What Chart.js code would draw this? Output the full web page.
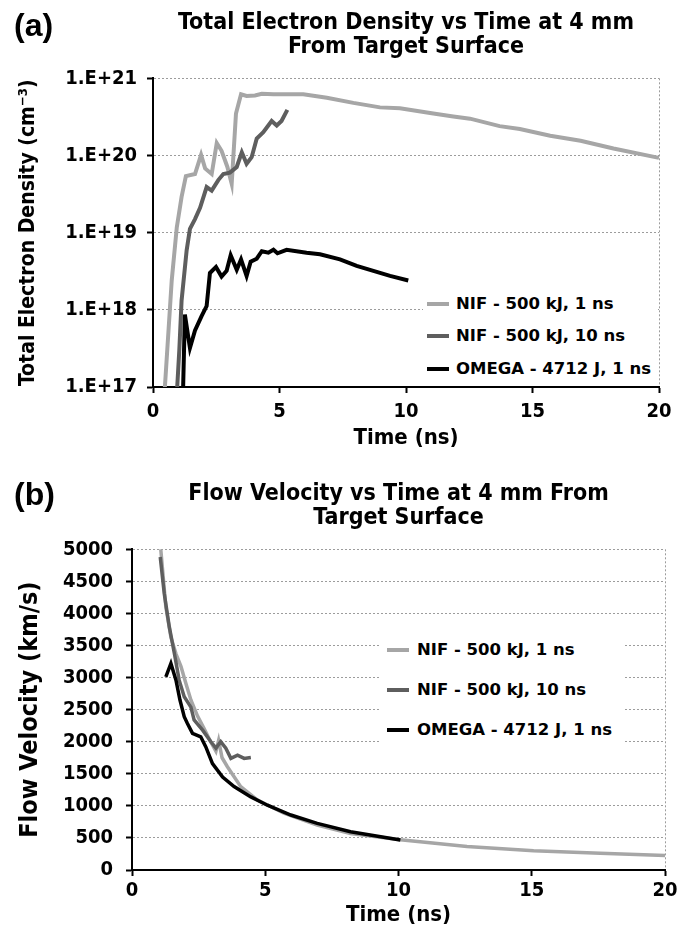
<!DOCTYPE html>
<html>
<head>
<meta charset="utf-8">
<script src="https://cdn.jsdelivr.net/npm/chart.js@4.4.1/dist/chart.umd.min.js"></script>
<style>
  html, body { margin: 0; padding: 0; background: #fff; }
  #page { position: relative; width: 691px; height: 934px; background: #fff; overflow: hidden; }
  .box { position: absolute; left: 0; width: 691px; }
  .tag { position: absolute; left: 14px; font-family: 'Liberation Sans', Arial, sans-serif; font-weight: bold; font-size: 32px; color: #000; line-height: 36px; }
  .lg { position: absolute; background: #fff; }
  .it { position: absolute; left: 0; height: 22px; line-height: 22px; white-space: nowrap;
        font-family: 'DejaVu Sans', sans-serif; font-weight: bold; font-size: 16.5px; color: #000; }
  .mk { position: absolute; top: 9px; width: 22px; height: 4px; }
  .tx { position: absolute; top: 0; }
</style>
</head>
<body>
<div id="page">
  <div class="box" style="top:0;height:470px"><canvas id="c1"></canvas></div>
  <div class="box" style="top:471px;height:463px"><canvas id="c2"></canvas></div>
  <div class="tag" style="top:7px">(a)</div>
  <div class="tag" style="top:476px">(b)</div>
  <div class="lg" id="lg1" style="left:423px;top:289px;width:233px;height:95px"></div>
  <div class="lg" id="lg2" style="left:380px;top:630px;width:245px;height:120px"></div>
</div>
<script>
// ---------- data ----------
const seriesLabels = ['NIF - 500 kJ, 1 ns', 'NIF - 500 kJ, 10 ns', 'OMEGA - 4712 J, 1 ns'];
const seriesColors = ['#a6a6a6', '#5e5e5e', '#000000'];

const titleA = ['Total Electron Density vs Time at 4 mm', 'From Target Surface'];
const titleB = ['Flow Velocity vs Time at 4 mm From', 'Target Surface'];
const xTitle = 'Time (ns)';
const yTitleA = 'Total Electron Density (cm\u207B\u00B3)';
const yTitleB = 'Flow Velocity (km/s)';

const xTicks = [0, 5, 10, 15, 20];
const yTicksA = [1e17, 1e18, 1e19, 1e20, 1e21];
const yTickLabelsA = ['1.E+17', '1.E+18', '1.E+19', '1.E+20', '1.E+21'];
const yTicksB = [0, 500, 1000, 1500, 2000, 2500, 3000, 3500, 4000, 4500, 5000];

// (a) electron density
const tA_nif1 = [0.44, 0.74, 0.94, 1.13, 1.30, 1.66, 1.90, 2.06, 2.32, 2.52, 2.71, 2.94, 3.11, 3.28, 3.48, 3.70, 4.03, 4.30, 4.76, 5.94, 6.87, 7.92, 8.97, 9.76, 11.08, 11.87, 12.53, 13.70, 14.50, 15.70, 16.90, 18.20, 20.00];
const nA_nif1 = [7e16, 2.4e18, 1.17e19, 2.9e19, 5.4e19, 5.75e19, 1.02e20, 6.8e19, 5.75e19, 1.45e20, 1.15e20, 7.1e19, 4.3e19, 3.5e20, 6.2e20, 5.9e20, 6.0e20, 6.3e20, 6.2e20, 6.2e20, 5.6e20, 4.8e20, 4.2e20, 4.1e20, 3.5e20, 3.2e20, 3.0e20, 2.4e20, 2.2e20, 1.8e20, 1.55e20, 1.23e20, 9.3e19];

const tA_nif10 = [0.93, 1.04, 1.13, 1.33, 1.46, 1.66, 1.86, 2.12, 2.32, 2.58, 2.78, 3.04, 3.31, 3.51, 3.70, 3.90, 4.10, 4.36, 4.69, 4.89, 5.08, 5.31];
const nA_nif10 = [7e16, 3.0e17, 1.32e18, 5.9e18, 1.12e19, 1.5e19, 2.1e19, 3.9e19, 3.5e19, 4.8e19, 5.75e19, 6.0e19, 7.1e19, 1.1e20, 7.8e19, 9.5e19, 1.66e20, 2.0e20, 2.8e20, 2.45e20, 2.8e20, 3.9e20];

const tA_omega = [1.18, 1.26, 1.46, 1.66, 1.92, 2.12, 2.25, 2.49, 2.71, 2.91, 3.07, 3.31, 3.48, 3.70, 3.86, 4.10, 4.30, 4.56, 4.76, 4.92, 5.28, 6.07, 6.60, 7.39, 8.05, 8.71, 9.37, 10.09];
const nA_omega = [7e16, 8.7e17, 3.2e17, 5.4e17, 8.3e17, 1.12e18, 3.0e18, 3.6e18, 2.7e18, 3.2e18, 5.1e18, 3.3e18, 4.5e18, 2.75e18, 4.2e18, 4.6e18, 5.75e18, 5.5e18, 6.0e18, 5.4e18, 6.0e18, 5.5e18, 5.25e18, 4.5e18, 3.7e18, 3.2e18, 2.75e18, 2.4e18];

// (b) flow velocity
const tB_nif1 = [1.08, 1.27, 1.46, 1.65, 1.84, 2.02, 2.21, 2.46, 2.71, 2.95, 3.15, 3.25, 3.38, 3.58, 4.08, 4.71, 5.70, 6.95, 8.20, 10.07, 12.57, 15.07, 17.57, 20.00];
const vB_nif1 = [5000, 4100, 3630, 3370, 3170, 2910, 2650, 2400, 2200, 2000, 1850, 2020, 1750, 1610, 1300, 1090, 885, 700, 570, 470, 365, 300, 260, 225];

const tB_nif10 = [1.06, 1.21, 1.40, 1.59, 1.77, 1.96, 2.21, 2.33, 2.65, 2.96, 3.15, 3.33, 3.52, 3.71, 3.96, 4.21, 4.46];
const vB_nif10 = [4880, 4310, 3790, 3375, 2960, 2700, 2540, 2340, 2180, 2000, 1900, 2000, 1900, 1740, 1790, 1740, 1755];

const tB_omega = [1.27, 1.46, 1.65, 1.80, 1.96, 2.08, 2.27, 2.58, 2.77, 3.02, 3.40, 3.83, 4.46, 5.08, 5.96, 6.95, 8.20, 10.07];
const vB_omega = [3010, 3220, 2960, 2650, 2390, 2285, 2130, 2077, 1920, 1660, 1450, 1300, 1140, 1010, 857, 727, 597, 467];

// ---------- helpers ----------
const FONT = "'DejaVu Sans Condensed', 'DejaVu Sans', sans-serif";
const GRID = '#9c9c9c';
const pts = (t, v) => t.map((x, i) => ({ x: x, y: v[i] }));

function datasets(series, width) {
  return series.map((s, i) => ({
    label: seriesLabels[i],
    data: pts(s[0], s[1]),
    borderColor: seriesColors[i],
    backgroundColor: seriesColors[i],
    borderWidth: width,
    pointRadius: 0,
    tension: 0,
    fill: false,
    order: 2 - i,
    clip: { left: 4, right: 4, top: 4, bottom: 0 }
  }));
}

function makeChart(id, cfg) {
  return new Chart(document.getElementById(id), {
    type: 'line',
    data: { datasets: datasets(cfg.series, cfg.lineWidth) },
    options: {
      responsive: true,
      maintainAspectRatio: false,
      animation: false,
      devicePixelRatio: 1,
      layout: { padding: { left: 0, right: cfg.padRight, top: 0, bottom: 0 } },
      plugins: {
        legend: { display: false },
        tooltip: { enabled: false },
        title: {
          display: true, text: cfg.title, fullSize: false, color: '#000',
          font: { family: FONT, size: 23, weight: 'bold', lineHeight: 1.05 },
          padding: { top: 11, bottom: 19 }
        }
      },
      scales: {
        x: {
          type: 'linear', min: 0, max: 20,
          afterBuildTicks: s => { s.ticks = xTicks.map(v => ({ value: v })); },
          ticks: { color: '#000', font: { family: FONT, size: 20, weight: 'bold' }, padding: cfg.xTickPad, maxRotation: 0, autoSkip: false, callback: v => String(v) },
          grid: {
            color: c => (c.tick && c.tick.value === 20) ? GRID : 'rgba(0,0,0,0)',
            tickColor: '#000', tickLength: 6, lineWidth: 1, tickWidth: 2
          },
          border: { color: '#000', width: 2, dash: [2, 2] },
          title: { display: true, text: xTitle, color: '#000', font: { family: FONT, size: 22, weight: 'bold' }, padding: { top: 0, bottom: cfg.xTitlePad } },
          afterFit: s => { s.height = cfg.xHeight; }
        },
        y: cfg.y
      }
    }
  });
}

function yAxis(opts) {
  return Object.assign({
    ticks: { color: '#000', font: { family: FONT, size: 20, weight: 'bold' }, padding: opts.tickPad, autoSkip: false, callback: opts.fmt },
    grid: {
      color: c => (c.tick && c.tick.value === opts.min) ? 'rgba(0,0,0,0)' : GRID,
      tickColor: '#000', tickLength: 6, lineWidth: 1, tickWidth: 2
    },
    border: { color: '#000', width: 2, dash: [2, 2] },
    title: { display: true, text: opts.title, color: '#000', font: { family: FONT, size: opts.titleSize, weight: 'bold' }, padding: { top: opts.titlePad, bottom: 0 } },
    afterFit: s => { s.width = opts.width; }
  }, opts.extra);
}

// ---------- chart (a) ----------
makeChart('c1', {
  series: [[tA_nif1, nA_nif1], [tA_nif10, nA_nif10], [tA_omega, nA_omega]],
  lineWidth: 4,
  title: titleA,
  padRight: 32,
  xTickPad: 7,
  xTitlePad: 19,
  xHeight: 83,
  y: yAxis({
    min: 1e17, tickPad: 10, title: yTitleA, titleSize: 21, titlePad: 16, width: 153,
    fmt: v => { const i = yTicksA.indexOf(v); return i >= 0 ? yTickLabelsA[i] : ''; },
    extra: {
      type: 'logarithmic', min: 1e17, max: 1e21,
      afterBuildTicks: s => { s.ticks = yTicksA.map(v => ({ value: v })); }
    }
  })
});

// ---------- chart (b) ----------
makeChart('c2', {
  series: [[tB_nif1, vB_nif1], [tB_nif10, vB_nif10], [tB_omega, vB_omega]],
  lineWidth: 3.5,
  title: titleB,
  padRight: 26,
  xTickPad: 3,
  xTitlePad: 6,
  xHeight: 64,
  y: yAxis({
    min: 0, tickPad: 13, title: yTitleB, titleSize: 25, titlePad: 15, width: 132,
    fmt: v => String(v),
    extra: {
      type: 'linear', min: 0, max: 5000,
      afterBuildTicks: s => { s.ticks = yTicksB.map(v => ({ value: v })); }
    }
  })
});

// ---------- legends ----------
function legend(id, rows, mk, tx) {
  const el = document.getElementById(id);
  seriesLabels.forEach((lab, i) => {
    const it = document.createElement('div');
    it.className = 'it';
    it.style.top = (rows[i] - 11) + 'px';
    it.style.width = '100%';
    const m = document.createElement('span');
    m.className = 'mk'; m.style.left = mk + 'px'; m.style.background = seriesColors[i];
    const t = document.createElement('span');
    t.className = 'tx'; t.style.left = tx + 'px'; t.textContent = lab;
    it.appendChild(m); it.appendChild(t); el.appendChild(it);
  });
}
legend('lg1', [15, 47, 80], 4, 33);
legend('lg2', [20, 60, 100], 7, 37);
</script>
</body>
</html>
